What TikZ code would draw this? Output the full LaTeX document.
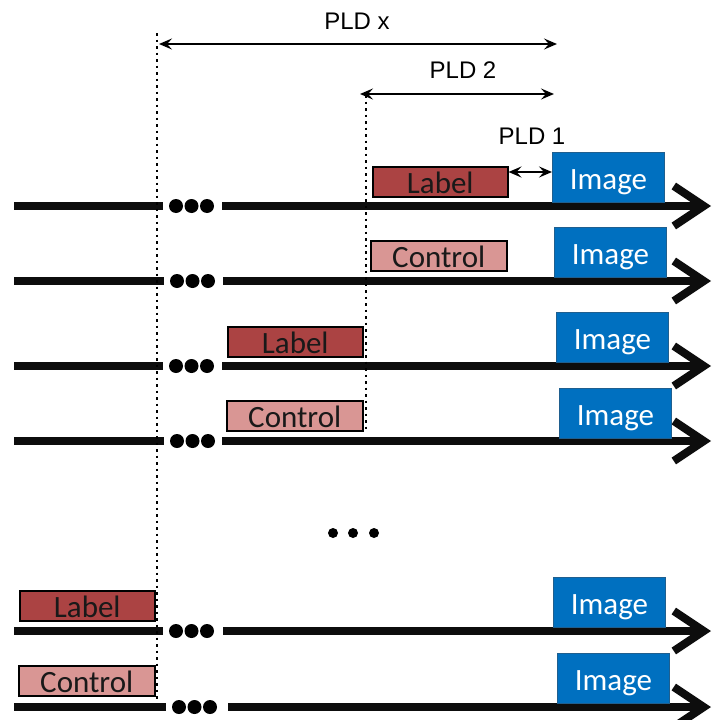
\documentclass[tikz,border=0pt]{standalone}
\usepackage{fontspec}
\setmainfont{Carlito}
\newfontfamily\arialfont{Liberation Sans}
\usepackage{xcolor}
\usetikzlibrary{arrows.meta}

\definecolor{labelred}{HTML}{AB4343}
\definecolor{controlpink}{HTML}{D99694}
\definecolor{imageblue}{HTML}{0070C0}
\definecolor{imageedge}{HTML}{1F5F8F}

\tikzset{
	box/.style = {draw, line width=1.5pt, anchor=north west, inner sep=0pt,
		font=\fontsize{31}{32}\selectfont, text height=24pt, text depth=1pt,
		minimum height=30pt},
	labelbox/.style = {box, fill=labelred, text=black!90, minimum width=135pt},
	controlbox/.style = {box, fill=controlpink, text=black!90, minimum width=136pt},
	imagebox/.style = {box, draw=imageedge, line width=1pt, fill=imageblue, text=white,
		minimum width=112pt, minimum height=50pt},
	timeline/.style = {line width=8pt, black!95},
	pld/.style = {{Stealth[length=13pt,width=11pt,inset=5pt]}-{Stealth[length=13pt,width=11pt,inset=5pt]}, line width=2pt},
	pldtext/.style = {font=\arialfont\fontsize{24}{26}\selectfont},
	marker/.style = {dash pattern=on 2.5pt off 4pt, line width=2.5pt}
}

\begin{document}
\begin{tikzpicture}[x=1pt, y=-1pt]
		\useasboundingbox (0,0) rectangle (713,720);
		
		%variables
		\def\rad{7};
		
		%timelines: y, start of the dots, start of the right part
		\foreach \y/\d/\r in {206/176/222, 281/177/223, 366/176/222, 441/177/222, 631/176/223, 707/179/228}{
			\coordinate (a\y) at (14,\y);
			\coordinate (b\y) at ({\d-13},\y);
			\coordinate (c\y) at (\r,\y);
			\coordinate (e\y) at (711,\y);
			\draw [timeline] (a\y) -- (b\y);
			\draw [timeline, -{Straight Barb[length=30pt,width=40pt]}] (c\y) -- (e\y);
			\foreach \k in {0,1,2}
				\fill ({\d+15.5*\k},\y) circle [radius = \rad];
		}
		
		%dotted markers
		\coordinate (x0) at (157,33);
		\coordinate (x1) at (157,700);
		\coordinate (y0) at (366,95);
		\coordinate (y1) at (366,432);
		\draw [marker] (x0) -- (x1);
		\draw [marker] (y0) -- (y1);
		
		%boxes
		\node [labelbox] (lab1) at (372,166) {Label};
		\node [imagebox] (img1) at (552,152) {Image};
		\node [controlbox] (con1) at (370,240) {Control};
		\node [imagebox] (img2) at (554,227) {Image};
		\node [labelbox] (lab2) at (227,326) {Label};
		\node [imagebox] (img3) at (556,312) {Image};
		\node [controlbox] (con2) at (226,400) {Control};
		\node [imagebox] (img4) at (559,388) {Image};
		\node [labelbox] (lab3) at (19,590) {Label};
		\node [imagebox] (img5) at (553,577) {Image};
		\node [controlbox] (con3) at (18,665) {Control};
		\node [imagebox] (img6) at (557,653) {Image};
		
		%delays
		\coordinate (px0) at (159,44);
		\coordinate (px1) at (557,44);
		\coordinate (p20) at (360,94);
		\coordinate (p21) at (554,94);
		\draw [pld] (px0) -- (px1);
		\draw [pld] (p20) -- (p21);
		\draw [pld] (lab1.east |- 0,172) -- (img1.west |- 0,172);
		\node [pldtext] (pldx) at (357,21) {PLD x};
		\node [pldtext] (pld2) at (463,70) {PLD 2};
		\node [pldtext] (pld1) at (532,136) {PLD 1};
		
		%skipped rows
		\foreach \x in {333,353,374}
			\fill (\x,533) circle [radius = 5];

	\end{tikzpicture}
\end{document}
